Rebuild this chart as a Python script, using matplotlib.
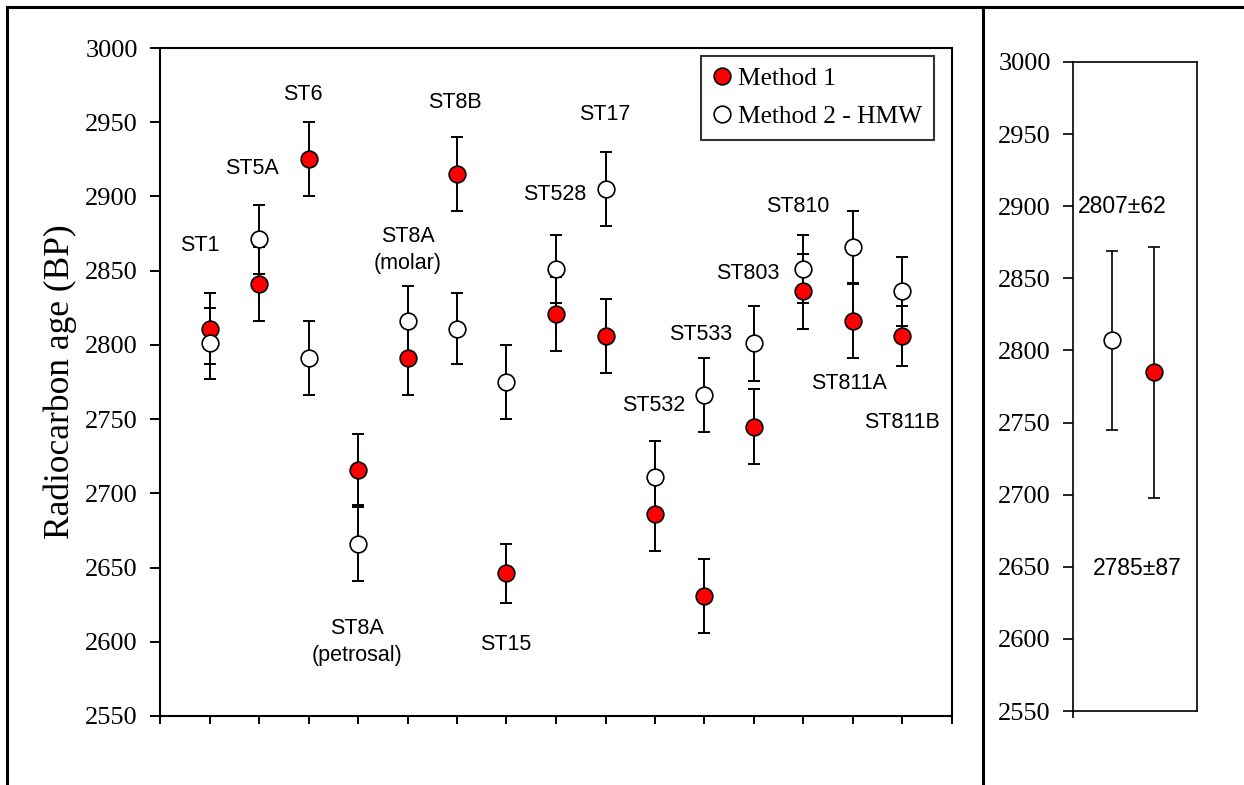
import numpy as np
import matplotlib.pyplot as plt
from matplotlib.lines import Line2D

# Sample names and radiocarbon ages (BP)
samples = ['ST1', 'ST5A', 'ST6', 'ST8A\n(petrosal)', 'ST8A\n(molar)', 'ST8B', 'ST15',
           'ST528', 'ST17', 'ST532', 'ST533', 'ST803', 'ST810', 'ST811A', 'ST811B']
method1 = [2811, 2841, 2925, 2716, 2791, 2915, 2646, 2821, 2806, 2686, 2631, 2745, 2836, 2816, 2806]
method1_err = [24, 25, 25, 24, 25, 25, 20, 25, 25, 25, 25, 25, 25, 25, 20]
method2 = [2801, 2871, 2791, 2666, 2816, 2811, 2775, 2851, 2905, 2711, 2766, 2801, 2851, 2866, 2836]
method2_err = [24, 23, 25, 25, 24, 24, 25, 23, 25, 24, 25, 25, 23, 24, 23]

# Weighted means shown in the right panel
mean_labels = ['2807\u00b162', '2785\u00b187']
mean_values = [2807, 2785]
mean_err = [62, 87]

# where the sample names sit (x, age)
label_pos = [(0.81, 2867), (1.86, 2919), (2.89, 2969), (3.97, 2600), (5.0, 2864),
             (5.96, 2963), (6.99, 2598), (7.97, 2901), (8.99, 2955), (9.97, 2759),
             (10.92, 2807), (11.88, 2848), (12.88, 2893), (13.92, 2774), (14.98, 2748)]

serif = 'Liberation Serif'
sans = 'Liberation Sans'

W, H = 1244, 785
fig = plt.figure(figsize=(W / 100, H / 100), dpi=100)

ax = fig.add_axes([160 / W, 1 - 716 / H, 792 / W, 668 / H])
ax2 = fig.add_axes([1073 / W, 1 - 711 / H, 124 / W, 649 / H])

x = np.arange(1, len(samples) + 1)

ax.errorbar(x, method1, yerr=method1_err, fmt='none', ecolor='black',
            elinewidth=1.4, capsize=4.5, capthick=1.4, zorder=2)
ax.errorbar(x, method2, yerr=method2_err, fmt='none', ecolor='black',
            elinewidth=1.4, capsize=4.5, capthick=1.4, zorder=2)
ax.plot(x, method1, 'o', ms=12, mfc='#ff0000', mec='black', mew=1.2,
        label='Method 1', zorder=3)
ax.plot(x, method2, 'o', ms=12, mfc='white', mec='black', mew=1.2,
        label='Method 2 - HMW', zorder=4)

for name, (lx, ly) in zip(samples, label_pos):
    ax.text(lx, ly, name, ha='center', va='center', fontsize=15.5,
            family=sans, linespacing=1.35)

ax.set_xlim(0, 16)
ax.set_ylim(2550, 3000)
ax.set_xticks(np.arange(0, 17))
ax.set_xticklabels([])
ax.set_yticks(np.arange(2550, 3001, 50))
ax.tick_params(axis='y', direction='out', length=7, width=1.4, pad=9,
               labelsize=19)
ax.tick_params(axis='x', direction='out', length=6, width=1.4)
for lab in ax.get_yticklabels():
    lab.set_family(serif)
for s in ax.spines.values():
    s.set_linewidth(1.5)
ax.set_ylabel('Radiocarbon age (BP)', family=serif, fontsize=25.5, labelpad=6)

leg = ax.legend(loc='upper right', bbox_to_anchor=(0.977, 0.988),
                borderaxespad=0, frameon=True, fancybox=False, edgecolor='black',
                handlelength=0.7, handletextpad=0.3, labelspacing=0.6,
                borderpad=0.45, prop={'family': serif, 'size': 18.3})
leg.get_frame().set_linewidth(1.5)

# right panel: mean ages
mx = [1, 2]
colors = ['white', '#ff0000']
for xi, v, e, c in zip(mx, mean_values, mean_err, colors):
    ax2.errorbar(xi, v, yerr=e, fmt='none', ecolor='black', elinewidth=1.2,
                 capsize=4.5, capthick=1.2, zorder=2)
    ax2.plot(xi, v, 'o', ms=12, mfc=c, mec='black', mew=1.2, zorder=3)
ax2.text(1.24, 2900, mean_labels[0], ha='center', va='center', fontsize=16.5, family=sans)
ax2.text(1.60, 2649, mean_labels[1], ha='center', va='center', fontsize=16.5, family=sans)

ax2.set_xlim(0.07, 3.03)
ax2.set_ylim(2550, 3000)
ax2.set_xticks([0.07])
ax2.set_xticklabels([])
ax2.set_yticks(np.arange(2550, 3001, 50))
ax2.tick_params(axis='y', direction='out', length=7, width=1.2, pad=9, labelsize=19)
ax2.tick_params(axis='x', direction='out', length=5, width=1.2)
for lab in ax2.get_yticklabels():
    lab.set_family(serif)
for s in ax2.spines.values():
    s.set_linewidth(1.2)

# outer frame lines
frame_kw = dict(color='black', lw=2.2, transform=fig.transFigure)
fig.add_artist(Line2D([7 / W, 1], [1 - 7 / H, 1 - 7 / H], **frame_kw))
fig.add_artist(Line2D([7 / W, 7 / W], [0, 1 - 7 / H], **frame_kw))
fig.add_artist(Line2D([983 / W, 983 / W], [0, 1 - 7 / H], **frame_kw))

fig.savefig('out.png', dpi=100)
